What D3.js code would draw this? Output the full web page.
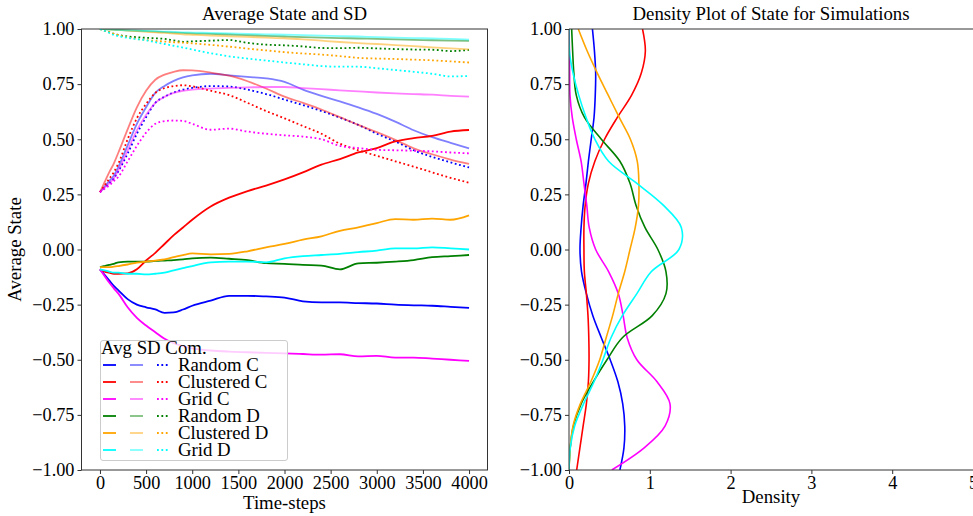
<!DOCTYPE html>
<html><head><meta charset="utf-8">
<script src="https://cdn.jsdelivr.net/npm/d3@7"></script>
<style>
body{margin:0;background:#fff}
svg{display:block}
text{font-family:"Liberation Serif","Times New Roman",serif;fill:#000}
</style>
</head><body>
<svg id="c" width="973" height="516"></svg>
<script>
// ---------- DATA ----------
const simNames  = ["Random C","Clustered C","Grid C","Random D","Clustered D","Grid D"];
const simColors = ["#0000ff","#ff0000","#ff00ff","#008000","#ffa500","#00ffff"];

const timeSteps = [0,50,100,150,200,300,400,500,600,700,800,900,1000,1200,1400,1600,1800,2000,2200,2400,2600,2800,3000,3200,3400,3600,3800,4000];

// Average state
const avgRandomC    = [-0.09,-0.115,-0.14,-0.165,-0.185,-0.225,-0.25,-0.262,-0.272,-0.287,-0.285,-0.272,-0.255,-0.232,-0.21,-0.21,-0.213,-0.218,-0.235,-0.24,-0.24,-0.243,-0.245,-0.25,-0.253,-0.255,-0.26,-0.265];
const avgClusteredC = [-0.09,-0.1,-0.105,-0.11,-0.11,-0.108,-0.09,-0.05,-0.015,0.025,0.065,0.1,0.135,0.195,0.235,0.265,0.29,0.318,0.35,0.385,0.41,0.44,0.46,0.49,0.505,0.515,0.535,0.542];
const avgGridC      = [-0.09,-0.12,-0.15,-0.176,-0.2,-0.262,-0.31,-0.345,-0.375,-0.405,-0.425,-0.438,-0.448,-0.458,-0.463,-0.466,-0.469,-0.471,-0.474,-0.477,-0.475,-0.485,-0.482,-0.49,-0.49,-0.495,-0.5,-0.505];
const avgRandomD    = [-0.08,-0.075,-0.07,-0.065,-0.058,-0.055,-0.055,-0.055,-0.052,-0.05,-0.048,-0.045,-0.04,-0.037,-0.042,-0.048,-0.062,-0.065,-0.07,-0.073,-0.09,-0.063,-0.06,-0.055,-0.048,-0.035,-0.03,-0.025];
const avgClusteredD = [-0.08,-0.08,-0.08,-0.078,-0.075,-0.068,-0.06,-0.055,-0.05,-0.045,-0.035,-0.025,-0.018,-0.022,-0.02,-0.008,0.01,0.025,0.045,0.06,0.085,0.1,0.12,0.138,0.135,0.14,0.135,0.155];
const avgGridD      = [-0.09,-0.095,-0.1,-0.105,-0.105,-0.11,-0.11,-0.113,-0.11,-0.105,-0.095,-0.085,-0.075,-0.058,-0.055,-0.055,-0.058,-0.04,-0.03,-0.025,-0.02,-0.012,-0.005,0.005,0.005,0.01,0.005,0.0];

// SD
const sdRandomC    = [0.26,0.285,0.31,0.335,0.375,0.472,0.57,0.645,0.71,0.742,0.765,0.781,0.79,0.797,0.79,0.783,0.776,0.76,0.725,0.697,0.672,0.645,0.615,0.58,0.541,0.51,0.484,0.459];
const sdClusteredC = [0.26,0.305,0.35,0.39,0.44,0.545,0.645,0.72,0.77,0.793,0.806,0.813,0.812,0.802,0.788,0.763,0.73,0.693,0.665,0.635,0.6,0.565,0.532,0.497,0.459,0.432,0.408,0.388];
const sdGridC      = [0.26,0.28,0.3,0.322,0.36,0.45,0.54,0.61,0.665,0.692,0.71,0.72,0.725,0.73,0.733,0.735,0.737,0.737,0.732,0.727,0.722,0.717,0.712,0.708,0.705,0.702,0.697,0.693];
const sdRandomD    = [1.0,0.999,0.998,0.997,0.996,0.994,0.992,0.99,0.988,0.986,0.984,0.982,0.98,0.978,0.975,0.972,0.969,0.966,0.963,0.961,0.959,0.957,0.955,0.953,0.951,0.949,0.947,0.946];
const sdClusteredD = [1.0,0.999,0.998,0.997,0.996,0.993,0.99,0.987,0.985,0.982,0.979,0.976,0.974,0.97,0.967,0.964,0.961,0.958,0.953,0.947,0.941,0.936,0.932,0.927,0.922,0.917,0.912,0.908];
const sdGridD      = [1.0,0.999,0.998,0.997,0.996,0.994,0.993,0.991,0.99,0.988,0.987,0.985,0.984,0.982,0.98,0.978,0.976,0.974,0.972,0.97,0.968,0.966,0.963,0.961,0.959,0.957,0.955,0.952];

// Com
const comRandomC    = [0.26,0.28,0.3,0.322,0.355,0.435,0.525,0.6,0.665,0.693,0.712,0.725,0.733,0.741,0.739,0.725,0.705,0.68,0.655,0.628,0.598,0.565,0.525,0.49,0.45,0.42,0.395,0.372];
const comClusteredC = [0.26,0.29,0.32,0.35,0.39,0.5,0.595,0.66,0.71,0.732,0.741,0.745,0.74,0.72,0.7,0.665,0.628,0.595,0.56,0.525,0.48,0.45,0.425,0.4,0.376,0.35,0.325,0.303];
const comGridC      = [0.26,0.275,0.29,0.31,0.33,0.4,0.47,0.53,0.57,0.582,0.585,0.583,0.57,0.543,0.548,0.535,0.525,0.518,0.512,0.5,0.47,0.46,0.452,0.45,0.448,0.445,0.44,0.436];
const comRandomD    = [1.0,0.993,0.985,0.978,0.973,0.966,0.963,0.96,0.958,0.955,0.948,0.942,0.944,0.947,0.95,0.937,0.929,0.926,0.921,0.914,0.913,0.915,0.912,0.909,0.907,0.906,0.9,0.905];
const comClusteredD = [1.0,0.993,0.986,0.978,0.972,0.962,0.955,0.95,0.946,0.943,0.94,0.938,0.935,0.928,0.92,0.911,0.903,0.895,0.889,0.884,0.877,0.869,0.866,0.864,0.861,0.858,0.853,0.848];
const comGridD      = [1.0,0.992,0.983,0.973,0.968,0.96,0.954,0.949,0.94,0.932,0.924,0.916,0.907,0.89,0.876,0.866,0.857,0.848,0.84,0.832,0.829,0.829,0.822,0.814,0.806,0.797,0.785,0.787];

// Density of state
const densityStates  = [1.0,0.9,0.8,0.7,0.6,0.5,0.4,0.3,0.2,0.1,0.0,-0.1,-0.2,-0.3,-0.4,-0.5,-0.6,-0.7,-0.8,-0.9,-1.0];
const densRandomC    = [0.29,0.315,0.33,0.325,0.31,0.275,0.24,0.21,0.175,0.15,0.136,0.155,0.215,0.295,0.4,0.51,0.605,0.665,0.69,0.68,0.63];
const densClusteredC = [0.91,0.945,0.895,0.775,0.6,0.44,0.32,0.24,0.2,0.185,0.185,0.19,0.215,0.235,0.245,0.248,0.24,0.215,0.175,0.135,0.095];
const densGridC      = [0.0,0.005,0.008,0.012,0.04,0.09,0.15,0.185,0.22,0.25,0.33,0.49,0.61,0.67,0.72,0.84,1.09,1.25,1.19,0.93,0.53];
const densRandomD    = [0.033,0.045,0.06,0.09,0.19,0.4,0.63,0.755,0.83,0.94,1.1,1.2,1.2,1.03,0.66,0.47,0.3,0.15,0.055,0.015,0.0];
const densClusteredD = [0.115,0.225,0.35,0.485,0.62,0.76,0.845,0.865,0.86,0.82,0.755,0.69,0.61,0.54,0.46,0.38,0.27,0.14,0.05,0.015,0.0];
const densGridD      = [0.0,0.005,0.05,0.12,0.21,0.32,0.49,0.84,1.17,1.39,1.36,1.02,0.84,0.66,0.52,0.42,0.31,0.18,0.07,0.015,0.0];

const stateTicks = [-1,-0.75,-0.5,-0.25,0,0.25,0.5,0.75,1];
const timeTicks  = [0,500,1000,1500,2000,2500,3000,3500,4000];
const densTicks  = [0,1,2,3,4,5];

const avgSeries = [avgRandomC,avgClusteredC,avgGridC,avgRandomD,avgClusteredD,avgGridD];
const sdSeries  = [sdRandomC,sdClusteredC,sdGridC,sdRandomD,sdClusteredD,sdGridD];
const comSeries = [comRandomC,comClusteredC,comGridC,comRandomD,comClusteredD,comGridD];
const densSeries = [densRandomC,densClusteredC,densGridC,densRandomD,densClusteredD,densGridD];

// ---------- DRAW ----------
const svg = d3.select("#c");
const FS = 18.8;   // titles, labels, legend
const TFS = 18.3;  // tick labels
const axisColor = "#333";

const yL = d3.scaleLinear().domain([-1,1]).range([470,29]);
const xL = d3.scaleLinear().domain([-200,4200]).range([81.5,487.5]);
const xR = d3.scaleLinear().domain([0,5]).range([569,973]);
const fmt2 = d3.format(".2f");

function styleAxis(g){
  g.select(".domain").remove();
  g.selectAll(".tick line").attr("stroke",axisColor).attr("stroke-width",1);
  g.selectAll(".tick text").attr("font-size",TFS).attr("font-family","'Liberation Serif',serif").attr("fill","#000");
}

// clip
const defs = svg.append("defs");
defs.append("clipPath").attr("id","clipL").append("rect").attr("x",81.5).attr("y",29).attr("width",406).attr("height",441);
defs.append("clipPath").attr("id","clipR").append("rect").attr("x",569).attr("y",29).attr("width",404).attr("height",441);

// ---- Left panel ----
const gL = svg.append("g");
const lineT = vals => d3.line().x((d,i)=>xL(timeSteps[i])).y(d=>yL(d)).curve(d3.curveMonotoneX)(vals);
const plotL = gL.append("g").attr("clip-path","url(#clipL)");
simColors.forEach((c,k)=>{
  plotL.append("path").attr("d",lineT(avgSeries[k])).attr("fill","none").attr("stroke",c).attr("stroke-width",1.8);
  plotL.append("path").attr("d",lineT(sdSeries[k])).attr("fill","none").attr("stroke",c).attr("stroke-opacity",0.5).attr("stroke-width",1.8);
  plotL.append("path").attr("d",lineT(comSeries[k])).attr("fill","none").attr("stroke",c).attr("stroke-width",1.8).attr("stroke-dasharray","1.8,2.6");
});

gL.append("g").attr("transform","translate(81.5,0)")
  .call(d3.axisLeft(yL).tickValues(stateTicks).tickFormat(fmt2).tickSize(4).tickPadding(3)).call(styleAxis);
gL.append("g").attr("transform","translate(0,470)")
  .call(d3.axisBottom(xL).tickValues(timeTicks).tickFormat(d3.format("d")).tickSize(4).tickPadding(2)).call(styleAxis);
gL.append("rect").attr("x",81.5).attr("y",29).attr("width",406).attr("height",441)
  .attr("fill","none").attr("stroke",axisColor).attr("stroke-width",1);

gL.append("text").attr("x",284.5).attr("y",20).attr("text-anchor","middle").attr("font-size",FS).text("Average State and SD");
gL.append("text").attr("x",284.5).attr("y",509).attr("text-anchor","middle").attr("font-size",FS).text("Time-steps");
gL.append("text").attr("transform","translate(21,249.5) rotate(-90)").attr("text-anchor","middle").attr("font-size",FS).text("Average State");

// Legend
const lg = gL.append("g");
lg.append("rect").attr("x",100.5).attr("y",340.5).attr("width",187).attr("height",120).attr("rx",2.5)
  .attr("fill","#fff").attr("fill-opacity",0.8).attr("stroke","#cccccc").attr("stroke-width",1);
lg.append("text").attr("x",101).attr("y",353.5).attr("font-size",FS).text("Avg SD Com.");
simNames.forEach((n,k)=>{
  const y = 365 + k*17;
  lg.append("line").attr("x1",103).attr("x2",116).attr("y1",y).attr("y2",y).attr("stroke",simColors[k]).attr("stroke-width",1.8);
  lg.append("line").attr("x1",130).attr("x2",143).attr("y1",y).attr("y2",y).attr("stroke",simColors[k]).attr("stroke-opacity",0.5).attr("stroke-width",1.8);
  lg.append("line").attr("x1",157).attr("x2",170).attr("y1",y).attr("y2",y).attr("stroke",simColors[k]).attr("stroke-width",1.8).attr("stroke-dasharray","1.8,2.6");
  lg.append("text").attr("x",178).attr("y",y+6).attr("font-size",FS).text(n);
});

// ---- Right panel ----
const gR = svg.append("g");
const lineD = vals => d3.line().x(d=>xR(d)).y((d,i)=>yL(densityStates[i])).curve(d3.curveCatmullRom.alpha(0.5))(vals);
const plotR = gR.append("g").attr("clip-path","url(#clipR)");
simColors.forEach((c,k)=>{
  plotR.append("path").attr("d",lineD(densSeries[k])).attr("fill","none").attr("stroke",c).attr("stroke-width",1.6);
});
gR.append("g").attr("transform","translate(569,0)")
  .call(d3.axisLeft(yL).tickValues(stateTicks).tickFormat(fmt2).tickSize(4).tickPadding(3)).call(styleAxis);
gR.append("g").attr("transform","translate(0,470)")
  .call(d3.axisBottom(xR).tickValues(densTicks).tickFormat(d3.format("d")).tickSize(4).tickPadding(2)).call(styleAxis);
gR.append("line").attr("x1",569).attr("x2",569).attr("y1",29).attr("y2",470).attr("stroke",axisColor);
gR.append("line").attr("x1",569).attr("x2",973).attr("y1",470).attr("y2",470).attr("stroke",axisColor);
gR.append("line").attr("x1",569).attr("x2",973).attr("y1",29).attr("y2",29).attr("stroke",axisColor);
gR.append("text").attr("x",771).attr("y",20).attr("text-anchor","middle").attr("font-size",FS).text("Density Plot of State for Simulations");
gR.append("text").attr("x",771).attr("y",503).attr("text-anchor","middle").attr("font-size",FS).text("Density");
</script>
</body></html>
